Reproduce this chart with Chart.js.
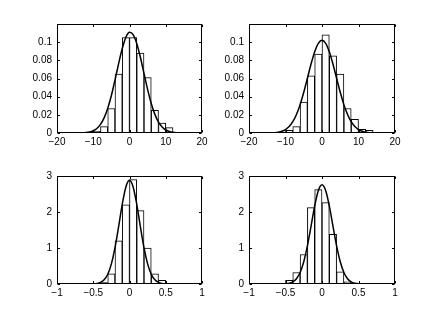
<!DOCTYPE html>
<html>
<head>
<meta charset="utf-8">
<script src="https://cdn.jsdelivr.net/npm/chart.js@4.4.1/dist/chart.umd.min.js"></script>
<style>
  body { margin: 0; background: #fff; }
  #wrap { position: relative; width: 436px; height: 320px; }
  canvas { position: absolute; left: 0; top: 0; }
</style>
</head>
<body>
<div id="wrap">
  <canvas id="c1" width="436" height="320"></canvas>
  <canvas id="c2" width="436" height="320"></canvas>
  <canvas id="c3" width="436" height="320"></canvas>
  <canvas id="c4" width="436" height="320"></canvas>
</div>
<script>
const topXTicks = [-20, -10, 0, 10, 20];
const topYTicks = [0, 0.02, 0.04, 0.06, 0.08, 0.1];
const botXTicks = [-1, -0.5, 0, 0.5, 1];
const botYTicks = [0, 1, 2, 3];

const binsA = [-11, -9, -7, -5, -3, -1, 1, 3, 5, 7, 9, 11];
const histA = [0.001, 0.002, 0.007, 0.027, 0.065, 0.105, 0.105, 0.088, 0.061, 0.025, 0.011, 0.006];
const binsB = [-9, -7, -5, -3, -1, 1, 3, 5, 7, 9, 11, 13];
const histB = [0.003, 0.007, 0.034, 0.063, 0.087, 0.108, 0.085, 0.065, 0.027, 0.015, 0.004, 0.003];
const binsC = [-0.45, -0.35, -0.25, -0.15, -0.05, 0.05, 0.15, 0.25, 0.35, 0.45];
const histC = [0.02, 0.04, 0.28, 1.2, 2.2, 2.9, 2.04, 1.0, 0.28, 0.1];
const binsD = [-0.45, -0.35, -0.25, -0.15, -0.05, 0.05, 0.15, 0.25, 0.35];
const histD = [0.1, 0.32, 0.82, 2.12, 2.62, 2.26, 1.38, 0.34, 0.06];

const fitXTop = [-14, -13, -12, -11, -10, -9, -8, -7, -6, -5, -4, -3, -2, -1, 0, 1, 2, 3, 4, 5, 6, 7, 8, 9, 10, 11, 12, 13, 14];
const fitA = [0.0001, 0.0002, 0.0005, 0.0011, 0.0025, 0.0050, 0.0095, 0.0167, 0.0273, 0.0413, 0.0583, 0.0764, 0.0930, 0.1053, 0.1108,
              0.1084, 0.0986, 0.0834, 0.0655, 0.0478, 0.0325, 0.0205, 0.0120, 0.0066, 0.0033, 0.0016, 0.0007, 0.0003, 0.0001];
const fitB = [0.0002, 0.0004, 0.0009, 0.0019, 0.0038, 0.0071, 0.0124, 0.0204, 0.0312, 0.0448, 0.0603, 0.0759, 0.0894, 0.0987, 0.1020,
              0.0987, 0.0894, 0.0759, 0.0603, 0.0448, 0.0312, 0.0204, 0.0124, 0.0071, 0.0038, 0.0019, 0.0009, 0.0004, 0.0002];
const fitXBot = [-0.5, -0.45, -0.4, -0.35, -0.3, -0.25, -0.2, -0.15, -0.1, -0.05, 0, 0.05, 0.1, 0.15, 0.2, 0.25, 0.3, 0.35, 0.4, 0.45, 0.5];
const fitC = [0.004, 0.014, 0.043, 0.116, 0.271, 0.559, 1.008, 1.596, 2.215, 2.697, 2.88,
              2.697, 2.215, 1.596, 1.008, 0.559, 0.271, 0.116, 0.043, 0.014, 0.004];
const fitD = [0.007, 0.022, 0.060, 0.147, 0.320, 0.618, 1.059, 1.610, 2.172, 2.600, 2.76,
              2.600, 2.172, 1.610, 1.059, 0.618, 0.320, 0.147, 0.060, 0.022, 0.007];

const Y_AXIS_W = 40;
const X_AXIS_H = 20;
const tickFont = { family: "'Liberation Sans', Arial, sans-serif", size: 10 };
const fmt = v => String(v).replace('-', '\u2212');

const frame = {
    id: 'frame',
    afterDatasetsDraw(chart) {
        const { ctx, chartArea: a, scales: { x, y } } = chart;
        const l = Math.round(a.left) + 0.5, r = Math.round(a.right) - 0.5;
        const t = Math.round(a.top) + 0.5, b = Math.round(a.bottom) - 0.5;
        ctx.save();
        ctx.strokeStyle = '#000';
        ctx.lineWidth = 1;
        ctx.beginPath();
        x.ticks.forEach(tk => {
            const px = Math.round(x.getPixelForValue(tk.value)) + 0.5;
            ctx.moveTo(px, b); ctx.lineTo(px, b - 2.5);
            ctx.moveTo(px, t); ctx.lineTo(px, t + 2.5);
        });
        y.ticks.forEach(tk => {
            const py = Math.round(y.getPixelForValue(tk.value)) + 0.5;
            ctx.moveTo(l, py); ctx.lineTo(l + 2.5, py);
            ctx.moveTo(r, py); ctx.lineTo(r - 2.5, py);
        });
        ctx.stroke();
        ctx.strokeRect(l, t, r - l, b - t);
        ctx.restore();
    }
};

function makeHist(id, area, bins, hist, fitX, fit, xr, yr, xTicks, yTicks) {
    const [left, top, right, bottom] = area;
    return new Chart(document.getElementById(id), {
        data: {
            datasets: [{
                type: 'line',
                data: fitX.map((v, i) => ({ x: v, y: fit[i] })),
                borderColor: '#000',
                borderWidth: 1.5,
                pointRadius: 0,
                cubicInterpolationMode: 'monotone',
                order: 0
            }, {
                type: 'bar',
                data: bins.map((v, i) => ({ x: v, y: hist[i] })),
                backgroundColor: '#fff',
                borderColor: '#000',
                borderWidth: 1,
                borderSkipped: false,
                barPercentage: 1,
                categoryPercentage: 1,
                order: 1
            }]
        },
        options: {
            responsive: false,
            animation: false,
            events: [],
            layout: {
                padding: { left: left - Y_AXIS_W, right: 436 - right, top: top, bottom: 320 - bottom - X_AXIS_H }
            },
            plugins: { legend: { display: false }, tooltip: { enabled: false } },
            scales: {
                x: {
                    type: 'linear', min: xr[0], max: xr[1], offset: false,
                    afterBuildTicks: s => { s.ticks = xTicks.map(v => ({ value: v })); },
                    afterFit: s => { s.height = X_AXIS_H; },
                    grid: { display: false, drawTicks: false, offset: false },
                    border: { display: false },
                    ticks: { font: tickFont, color: '#000', padding: 3, maxRotation: 0, autoSkip: false, callback: fmt }
                },
                y: {
                    type: 'linear', min: yr[0], max: yr[1],
                    afterBuildTicks: s => { s.ticks = yTicks.map(v => ({ value: v })); },
                    afterFit: s => { s.width = Y_AXIS_W; },
                    grid: { display: false, drawTicks: false },
                    border: { display: false },
                    ticks: { font: tickFont, color: '#000', padding: 5, autoSkip: false, callback: fmt }
                }
            }
        },
        plugins: [frame]
    });
}

makeHist('c1', [57, 24, 202, 133], binsA, histA, fitXTop, fitA, [-20, 20], [0, 0.12], topXTicks, topYTicks);
makeHist('c2', [249, 24, 395, 133], binsB, histB, fitXTop, fitB, [-20, 20], [0, 0.12], topXTicks, topYTicks);
makeHist('c3', [57, 176, 202, 284], binsC, histC, fitXBot, fitC, [-1, 1], [0, 3], botXTicks, botYTicks);
makeHist('c4', [249, 176, 395, 284], binsD, histD, fitXBot, fitD, [-1, 1], [0, 3], botXTicks, botYTicks);
</script>
</body>
</html>
